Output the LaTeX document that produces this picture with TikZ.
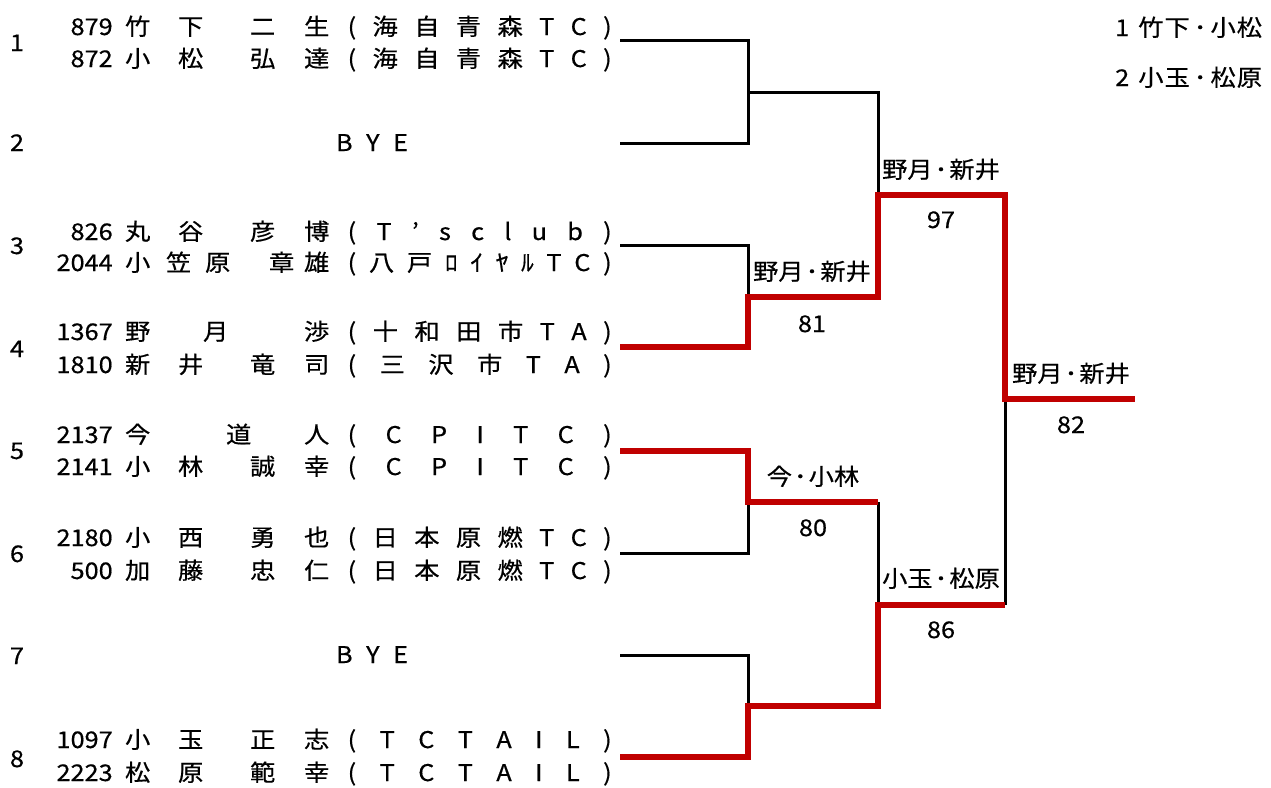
\documentclass[tikz,border=0pt]{standalone}
\usepackage{fontspec}
\setmainfont{Noto Sans CJK JP}[FakeStretch=1.1,FakeBold=0.5]
\definecolor{winred}{HTML}{C00000}
\tikzset{
  every node/.style={inner sep=0pt, font=\fontsize{23}{23}\selectfont},
  rowtext/.style={anchor=base west},
  lbl/.style={anchor=base},
  blk/.style={draw=black, line width=3pt},
  win/.style={draw=winred, line width=5.6pt},
}
\newcommand\gl[2]{\rlap{\hskip#1pt\makebox[0pt]{#2}}}
\newcommand\pnum[1]{\rlap{\hbox to 112pt{\hfil#1}}}
\newcommand\club[1]{\rlap{\hskip347pt\makebox[264pt][s]{#1}}}
\newcommand\std[4]{\gl{137}{#1}\gl{190}{#2}\gl{262}{#3}\gl{316}{#4}}
\newcommand\dt{\hspace{2pt}･\hspace{2pt}}
\newcommand\ldt{\hspace{4pt}･\hspace{4pt}}
\begin{document}
\begin{tikzpicture}[x=1pt,y=-1pt]
\fill[white] (0,0) rectangle (1271,787);
\useasboundingbox (0,0) rectangle (1271,787);

% seed numbers
\foreach \s/\yy in {1/43,2/143,3/246,4/349,5/451,6/554,7/656,8/759}
  \node[lbl] (seed\s) at (17,\yy+8) {\s};

% entries
\node[rowtext] (r1a) at (0,27+8) {\pnum{879}\std{竹}{下}{二}{生}\club{( 海 自 青 森 T C )}};
\node[rowtext] (r1b) at (0,59+8) {\pnum{872}\std{小}{松}{弘}{達}\club{( 海 自 青 森 T C )}};
\node[lbl] (bye2) at (372,143+8) {\makebox[72pt][s]{B Y E}};
\node[rowtext] (r3a) at (0,232+8) {\pnum{826}\std{丸}{谷}{彦}{博}\club{( T ’ s c l u b )}};
\node[rowtext] (r3b) at (0,263+8) {\pnum{2044}\gl{137}{小}\gl{178}{笠}\gl{217}{原}\gl{281}{章}\gl{316}{雄}\club{( 八 戸 ﾛ ｲ ﾔ ﾙ T C )}};
\node[rowtext] (r4a) at (0,332+8) {\pnum{1367}\gl{137}{野}\gl{215}{月}\gl{316}{渉}\club{( 十 和 田 市 T A )}};
\node[rowtext] (r4b) at (0,365+8) {\pnum{1810}\std{新}{井}{竜}{司}\club{( 三 沢 市 T A )}};
\node[rowtext] (r5a) at (0,435+8) {\pnum{2137}\gl{137}{今}\gl{238}{道}\gl{316}{人}\club{( C P I T C )}};
\node[rowtext] (r5b) at (0,467+8) {\pnum{2141}\std{小}{林}{誠}{幸}\club{( C P I T C )}};
\node[rowtext] (r6a) at (0,538+8) {\pnum{2180}\std{小}{西}{勇}{也}\club{( 日 本 原 燃 T C )}};
\node[rowtext] (r6b) at (0,571+8) {\pnum{500}\std{加}{藤}{忠}{仁}\club{( 日 本 原 燃 T C )}};
\node[lbl] (bye7) at (372,655+8) {\makebox[72pt][s]{B Y E}};
\node[rowtext] (r8a) at (0,740+8) {\pnum{1097}\std{小}{玉}{正}{志}\club{( T C T A I L )}};
\node[rowtext] (r8b) at (0,773+8) {\pnum{2223}\std{松}{原}{範}{幸}\club{( T C T A I L )}};

% legend
\node[rowtext] (leg1) at (1115,28+8) {1\hspace{9pt}竹\hspace{1pt}下\ldt 小\hspace{1pt}松};
\node[rowtext] (leg2) at (1115,78+8) {2\hspace{9pt}小\hspace{1pt}玉\ldt 松\hspace{1pt}原};

% bracket points
\coordinate (e1) at (620,40);  \coordinate (e2) at (620,143);
\coordinate (e3) at (620,245); \coordinate (e4) at (620,347);
\coordinate (e5) at (620,451); \coordinate (e6) at (620,553);
\coordinate (e7) at (620,655); \coordinate (e8) at (620,757);
\coordinate (m1) at (748,92);  \coordinate (m2) at (748,297);
\coordinate (m3) at (748,502); \coordinate (m4) at (748,706);
\coordinate (s1) at (878,195); \coordinate (s2) at (878,605);
\coordinate (f)  at (1005,399); \coordinate (champ) at (1135,399);

% black lines
\draw[blk] (e1) -- (e1 -| m1) -- (e2 -| m1) -- (e2);
\draw[blk] (m1) -- (m1 -| s1) -- (s1);
\draw[blk] (e3) -- (e3 -| m2) -- (m2);
\draw[blk] (e6) -- (e6 -| m3) -- (m3);
\draw[blk] (m3 -| s2) -- (s2);
\draw[blk] (e7) -- (e7 -| m4) -- (m4);
\draw[blk] (s2 -| f) -- (f);

% winner lines
\draw[win] (e4) -- (e4 -| m2) -- (m2) -- (m2 -| s1) -- (s1) -- (s1 -| f) -- (f) -- (champ);
\draw[win] (e5) -- (e5 -| m3) -- (m3) -- (m3 -| s2);
\draw[win] (e8) -- (e8 -| m4) -- (m4) -- (m4 -| s2) -- (s2) -- (s2 -| f);

% match labels
\node[lbl] (w1) at (941,170+8) {野月\dt 新井};
\node[lbl] (sc1) at (941,220+8) {97};
\node[lbl] (w2) at (812,272+8) {野月\dt 新井};
\node[lbl] (sc2) at (812,324+8) {81};
\node[lbl] (w3) at (1071,374+8) {野月\dt 新井};
\node[lbl] (sc3) at (1071,425+8) {82};
\node[lbl] (w4) at (813,477+8) {今\dt 小林};
\node[lbl] (sc4) at (813,528+8) {80};
\node[lbl] (w5) at (941,579+8) {小玉\dt 松原};
\node[lbl] (sc5) at (941,630+8) {86};
\end{tikzpicture}
\end{document}
